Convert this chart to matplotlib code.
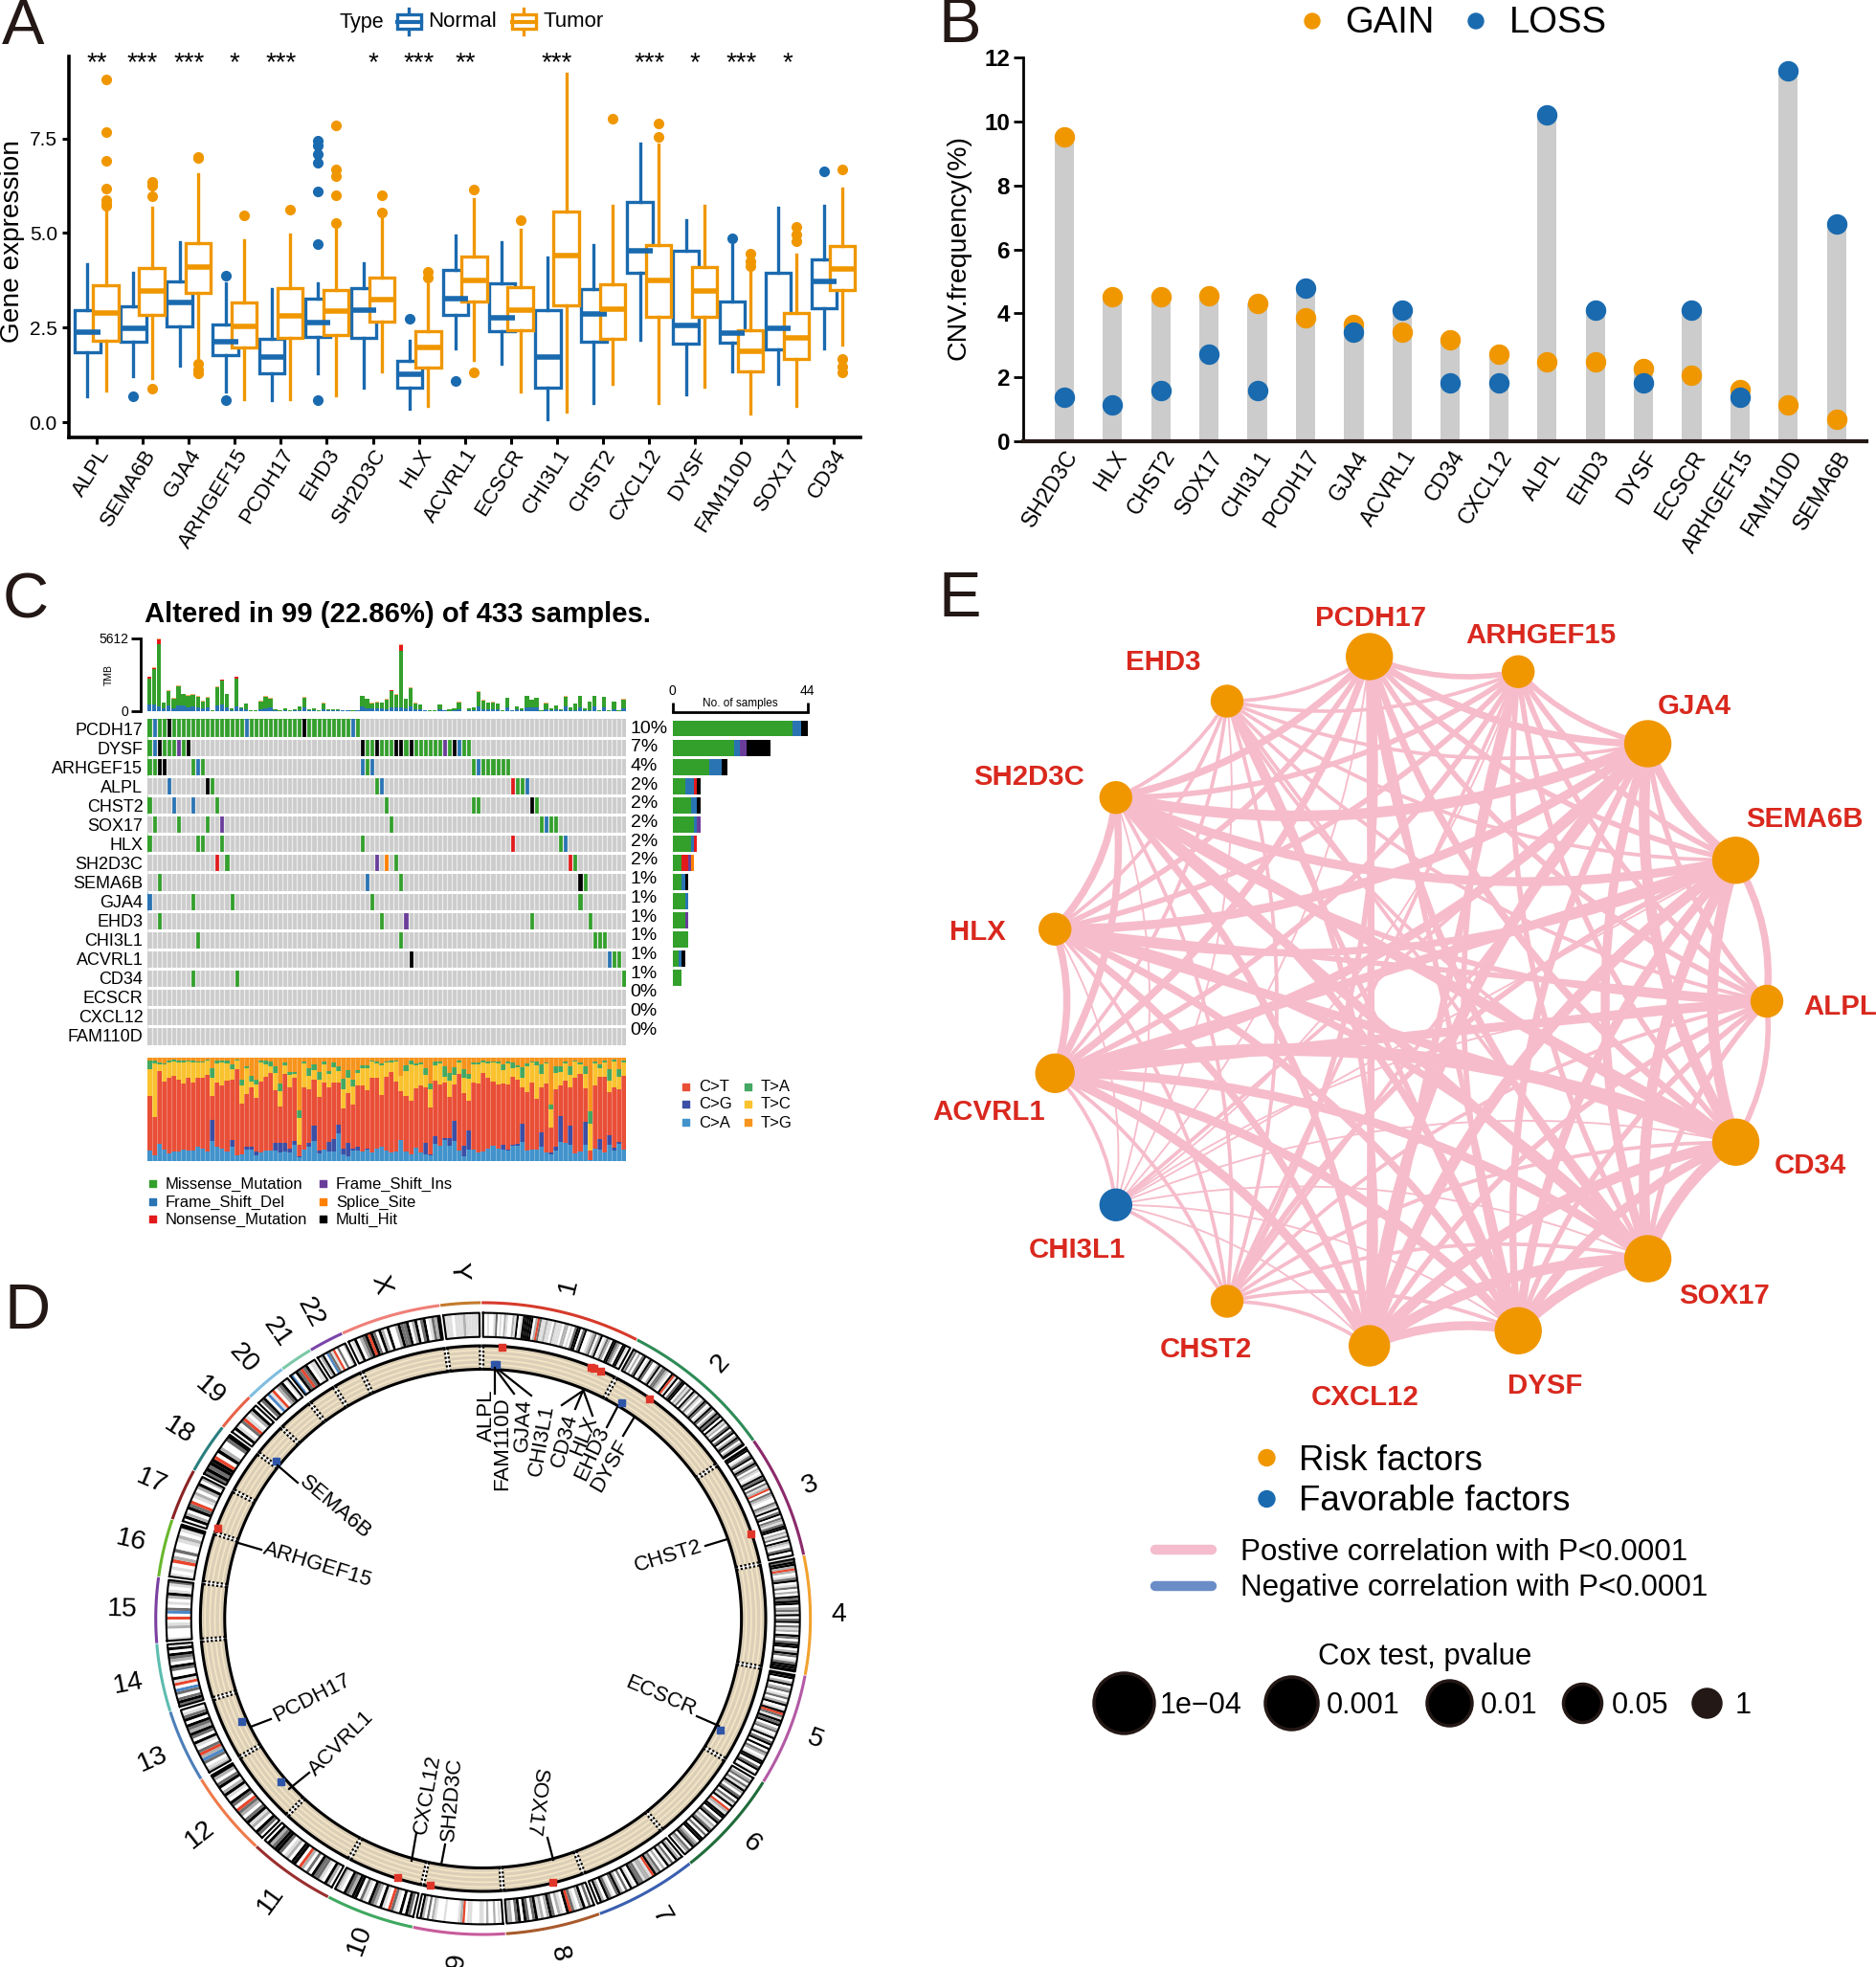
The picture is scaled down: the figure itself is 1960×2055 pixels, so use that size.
"""Recreate a six part gene panel: boxplots, CNV, oncoplot, circos and network."""

import numpy as np
import matplotlib
matplotlib.use('Agg')
import matplotlib.pyplot as plt
from matplotlib.colors import ListedColormap
from matplotlib.patches import PathPatch, Rectangle
from matplotlib.path import Path

plt.rcParams['font.family'] = ['Liberation Sans', 'DejaVu Sans']

W, H = 1960, 2055
BLUE = '#1a6aaf'
ORANGE = '#f09700'
INK = '#231815'

# panel A
box_genes = ['ALPL', 'SEMA6B', 'GJA4', 'ARHGEF15', 'PCDH17', 'EHD3', 'SH2D3C', 'HLX', 'ACVRL1',
             'ECSCR', 'CHI3L1', 'CHST2', 'CXCL12', 'DYSF', 'FAM110D', 'SOX17', 'CD34']
box_stars = ['**', '***', '***', '*', '***', '', '*', '***', '**', '', '***', '', '***', '*', '***', '*', '']
normal_lo = [0.69, 1.21, 1.50, 0.81, 0.57, 1.28, 0.90, 0.35, 1.94, 1.54, 0.07, 0.51, 2.18, 0.73, 1.33, 1.02, 1.94]
normal_q1 = [1.85, 2.12, 2.54, 1.78, 1.28, 2.26, 2.23, 0.92, 2.83, 2.40, 0.92, 2.12, 3.95, 2.07, 2.09, 1.93, 3.02]
normal_med = [2.39, 2.48, 3.16, 2.12, 1.73, 2.64, 2.95, 1.26, 3.26, 2.76, 1.73, 2.86, 4.53, 2.56, 2.35, 2.48, 3.72]
normal_q3 = [2.97, 3.07, 3.72, 2.59, 2.21, 3.26, 3.55, 1.61, 4.02, 3.66, 2.95, 3.52, 5.81, 4.52, 3.19, 3.95, 4.31]
normal_hi = [4.18, 3.95, 4.77, 3.67, 3.52, 3.67, 4.21, 2.16, 4.93, 4.77, 4.36, 4.69, 7.36, 5.33, 4.69, 5.66, 5.72]
normal_out = [[], [0.69], [], [0.59, 3.87], [], [0.57, 4.71, 6.11, 6.86, 7.09, 7.31, 7.45], [], [2.74], [1.09],
              [], [], [], [], [], [4.85], [], [6.62]]
tumor_lo = [0.83, 1.16, 1.73, 0.62, 0.62, 0.70, 1.35, 0.42, 1.64, 0.80, 0.29, 1.00, 0.51, 0.94, 0.23, 0.42, 2.05]
tumor_q1 = [2.16, 2.83, 3.43, 1.97, 2.23, 2.31, 2.66, 1.45, 3.18, 2.43, 3.10, 2.21, 2.78, 2.78, 1.33, 1.66, 3.50]
tumor_med = [2.88, 3.47, 4.10, 2.54, 2.81, 2.93, 3.24, 1.97, 3.74, 2.95, 4.40, 2.99, 3.74, 3.47, 1.88, 2.23, 4.04]
tumor_q3 = [3.61, 4.07, 4.73, 3.16, 3.55, 3.50, 3.81, 2.40, 4.37, 3.58, 5.57, 3.64, 4.69, 4.10, 2.43, 2.88, 4.67]
tumor_hi = [5.70, 5.66, 6.55, 4.81, 4.97, 5.10, 5.36, 3.64, 5.91, 5.09, 9.22, 5.72, 7.33, 5.72, 4.02, 4.43, 6.17]
tumor_out = [[9.07, 7.67, 6.90, 6.17, 5.88, 5.78, 5.72], [0.88, 5.98, 6.26, 6.36], [1.30, 1.40, 1.54, 6.98, 7.02],
             [5.47], [5.63], [5.26, 6.00, 6.50, 6.69, 7.85], [5.54, 5.99], [3.81, 3.97], [1.31, 6.15], [5.33], [],
             [8.02], [7.55, 7.90], [], [4.12, 4.26, 4.45], [4.78, 4.97, 5.17], [1.32, 1.47, 1.66, 6.68]]

# panel B
cnv_genes = ['SH2D3C', 'HLX', 'CHST2', 'SOX17', 'CHI3L1', 'PCDH17', 'GJA4', 'ACVRL1', 'CD34', 'CXCL12',
             'ALPL', 'EHD3', 'DYSF', 'ECSCR', 'ARHGEF15', 'FAM110D', 'SEMA6B']
cnv_gain = [9.53, 4.53, 4.53, 4.54, 4.32, 3.87, 3.64, 3.41, 3.18, 2.73, 2.50, 2.50, 2.28, 2.06, 1.61, 1.14, 0.70]
cnv_loss = [1.37, 1.14, 1.59, 2.73, 1.59, 4.78, 3.41, 4.09, 1.83, 1.83, 10.22, 4.09, 1.83, 4.09, 1.37, 11.59, 6.81]

# panel C
onco_genes = ['PCDH17', 'DYSF', 'ARHGEF15', 'ALPL', 'CHST2', 'SOX17', 'HLX', 'SH2D3C', 'SEMA6B', 'GJA4',
              'EHD3', 'CHI3L1', 'ACVRL1', 'CD34', 'ECSCR', 'CXCL12', 'FAM110D']
onco_pct = ['10%', '7%', '4%', '2%', '2%', '2%', '2%', '2%', '1%', '1%', '1%', '1%', '1%', '1%', '0%', '0%', '0%']
missense = {
    'PCDH17': [0, 2, 3, *range(5, 20), *range(21, 32), *range(33, 42), 43],
    'DYSF': [0, 3, 4, 5, 7, 45, 46, 48, 49, 50, 53, *range(55, 61), 62, 65, 66],
    'ARHGEF15': [0, 1, 9, 11, 45, 67, *range(69, 75)],
    'ALPL': [13, 47, 76, 77],
    'CHST2': [0, 14, 49, 67, 68, 80],
    'SOX17': [1, 6, 12, 50, 81, 83, 84],
    'HLX': [0, 10, 11, 15, 44, 85],
    'SH2D3C': [16, 51, 88],
    'SEMA6B': [2, 52, 90],
    'GJA4': [9, 17, 46, 89],
    'EHD3': [2, 48, 79, 91],
    'CHI3L1': [10, 52, 92, 93, 94],
    'ACVRL1': [96, 97],
    'CD34': [9, 18, 98],
}
frame_del = {'PCDH17': [1, 20, 42], 'DYSF': [1, 64], 'ARHGEF15': [10, 44, 46, 68], 'ALPL': [4, 48, 78],
             'CHST2': [5, 9], 'SOX17': [82], 'HLX': [86], 'SEMA6B': [45], 'GJA4': [0], 'ACVRL1': [95]}
nonsense = {'ALPL': [75], 'HLX': [75], 'SH2D3C': [14, 87]}
frame_ins = {'DYSF': [6, 61], 'SOX17': [15], 'SH2D3C': [47], 'EHD3': [53]}
splice_site = {'SH2D3C': [49]}
multi_hit = {'PCDH17': [4, 32], 'DYSF': [2, 8, 44, 47, 51, 52, 54, 63], 'ARHGEF15': [2, 3], 'ALPL': [12],
             'CHST2': [79], 'SEMA6B': [89], 'ACVRL1': [54]}

# bar heights, full scale 226 is 5612 mutations
tmb_total = [108, 136, 226, 28, 64, 41, 80, 55, 50, 54, 48, 33, 45, 3, 76, 99, 55, 8, 108, 13, 25, 3, 2, 33, 47,
             41, 5, 2, 8, 2, 5, 16, 45, 5, 8, 2, 26, 7, 5, 5, 4, 3, 3, 4, 49, 40, 27, 30, 28, 38, 66, 53, 208, 40,
             73, 26, 20, 4, 3, 3, 21, 3, 6, 8, 30, 1, 9, 11, 61, 36, 28, 29, 23, 2, 43, 4, 16, 8, 49, 37, 43, 2,
             26, 8, 19, 5, 47, 13, 24, 49, 8, 31, 49, 2, 46, 3, 31, 3, 38]
tmb_del = [20, 20, 15, 8, 17, 10, 18, 18, 12, 14, 13, 8, 12, 0, 18, 22, 11, 3, 15, 9, 6, 1, 1, 7, 9,
           11, 2, 1, 2, 1, 2, 4, 12, 2, 2, 1, 5, 2, 2, 3, 2, 2, 1, 2, 14, 10, 8, 8, 9, 7, 12, 13, 13, 9,
           15, 6, 6, 2, 1, 1, 6, 2, 1, 3, 6, 1, 2, 2, 15, 7, 5, 7, 6, 1, 12, 3, 5, 2, 13, 11, 11, 1,
           6, 2, 5, 2, 15, 3, 4, 12, 3, 4, 14, 1, 11, 1, 7, 1, 9]
tmb_red = {0: 4, 1: 3, 2: 17, 15: 3, 18: 4, 50: 1, 52: 20, 54: 1, 68: 1}

# spectrum boundaries, read as pixel rows in a crop with base 352 and top 28
spec_ca = [318, 335, 297, 315, 328, 322, 321, 315, 320, 318, 308, 312, 323, 288, 306, 314, 323, 308, 335, 330,
           315, 317, 335, 326, 320, 318, 318, 324, 322, 325, 302, 340, 315, 308, 290, 328, 316, 323, 323, 265,
           332, 338, 320, 318, 323, 316, 326, 312, 306,
           318, 326, 323, 287, 322, 330, 310, 324, 332, 335, 297, 305, 285, 303, 288, 318, 338, 317, 316, 325,
           322, 312, 305, 312, 315, 320, 305, 305, 292, 320, 316, 315, 308, 324, 332, 318, 292, 295, 302, 328,
           323, 302, 350, 314, 316, 324, 300, 318, 298, 316]
spec_cg = [318, 335, 297, 315, 328, 322, 321, 315, 320, 318, 308, 312, 323, 224, 306, 314, 323, 285, 335, 330,
           306, 306, 322, 326, 320, 318, 294, 296, 294, 312, 290, 336, 315, 294, 240, 320, 316, 293, 282, 238,
           312, 296, 313, 307, 323, 312, 326, 312, 306,
           318, 326, 323, 287, 322, 330, 310, 324, 295, 330, 274, 305, 280, 280, 225, 318, 305, 257, 316, 325,
           322, 312, 305, 312, 300, 315, 300, 298, 234, 320, 316, 315, 262, 324, 326, 308, 212, 295, 240, 328,
           323, 228, 350, 314, 284, 324, 270, 310, 292, 316]
spec_ct = [147, 215, 70, 102, 90, 85, 97, 110, 90, 107, 91, 91, 83, 147, 107, 115, 100, 96, 65, 173,
           141, 122, 155, 102, 88, 75, 130, 180, 78, 120, 92, 300, 122, 128, 98, 152, 107, 122, 107, 106,
           187, 138, 176, 115, 115, 130, 92, 92, 145,
           87, 72, 104, 132, 147, 162, 123, 115, 120, 183, 100, 112, 105, 150, 113, 78, 140, 162, 106, 110,
           75, 92, 104, 112, 110, 112, 87, 97, 122, 137, 105, 157, 120, 110, 247, 128, 115, 101, 120, 92,
           80, 125, 320, 115, 87, 88, 137, 120, 128, 85]
spec_tc = [63, 47, 48, 50, 44, 40, 42, 42, 41, 42, 44, 44, 38, 90, 45, 43, 45, 65, 38, 115,
           62, 102, 113, 43, 50, 55, 76, 132, 52, 82, 78, 217, 45, 85, 68, 98, 50, 80, 58, 70,
           127, 90, 117, 77, 60, 60, 40, 45, 52,
           44, 42, 40, 85, 70, 48, 52, 50, 82, 128, 52, 45, 88, 100, 82, 44, 90, 95, 48, 48,
           42, 45, 44, 45, 68, 47, 62, 57, 92, 55, 43, 52, 80, 46, 190, 75, 72, 45, 82, 40,
           48, 80, 235, 45, 60, 42, 100, 40, 87, 43]
spec_ta = [38, 36, 44, 46, 38, 34, 38, 38, 37, 38, 39, 39, 35, 62, 37, 36, 38, 48, 33, 96,
           54, 84, 96, 38, 37, 40, 55, 110, 44, 72, 72, 192, 41, 60, 48, 72, 40, 70, 42, 56,
           94, 68, 97, 68, 52, 52, 36, 41, 47,
           40, 36, 36, 85, 52, 37, 47, 44, 60, 110, 41, 41, 56, 76, 58, 38, 65, 78, 42, 43,
           36, 40, 39, 40, 50, 41, 42, 52, 58, 47, 39, 41, 50, 42, 175, 56, 55, 40, 56, 36,
           42, 54, 195, 40, 50, 38, 63, 35, 65, 38]

# panel D
chrom_names = ['1', '2', '3', '4', '5', '6', '7', '8', '9', '10', '11', '12', '13', '14', '15', '16', '17', '18',
               '19', '20', '21', '22', 'X', 'Y']
chrom_mb = [249, 243, 198, 191, 181, 171, 159, 146, 141, 136, 135, 134, 115, 107, 103, 90, 81, 78, 59, 63, 48, 51,
            155, 59]
chrom_arc = ['#d63a2b', '#2e8b57', '#8b2a6b', '#f2a12e', '#b35aa5', '#1f6b3a', '#3a5fb0', '#a85a2c', '#c75b9b',
             '#3ea860', '#9a2e2e', '#ef7a4a', '#4d7fb8', '#5dbcb0', '#7a3fa0', '#6ab82d', '#8b2323', '#2a7f7f',
             '#e8634a', '#7ebde0', '#7cc8a8', '#7a45a8', '#ef7f78', '#c47a2c']
chrom_bands = [
    '00100130102100214014444402r311211021110220103440340012302401320443204410',
    '2302034014300241332104r1403440213042031024301430243404120340340243024',
    '4401340243021014340312r032100321403403213440213042103401',
    '3442r20134013020434402314034031204303440243013444',
    '44024023013024014r3143402301403404032014403401',
    '0230314203403140r2144034021340304402340320',
    '0240314020324r122133401403024301340240',
    '03042013r4012034202143034043022',
    '0102002011000110r2100000100012030240',
    '03404013r0140234013044234012',
    '024013340302r04402103443240',
    '03402143023r0340142043024',
    '2103b2r301403423404310',
    '34303b0r1400340234041',
    '1000210r0b3010241013',
    '1010r2030012014',
    '042043r01202402',
    '34344r0420034',
    '04103r10240',
    '0340b1r023401',
    'b043r34011',
    '0240b31r03002',
    '0140234r4304204002433402403401324',
    '1110111211111',
]
gene_marks = ['ALPL', 'FAM110D', 'GJA4', 'CHI3L1', 'CD34', 'HLX', 'EHD3', 'DYSF', 'CHST2', 'ECSCR', 'SOX17',
              'SH2D3C', 'CXCL12', 'ACVRL1', 'PCDH17', 'ARHGEF15', 'SEMA6B']
gene_chrom = [0, 0, 0, 0, 0, 0, 1, 1, 2, 4, 7, 8, 9, 11, 12, 16, 18]
gene_mb = [21.8, 26.3, 35.0, 203.0, 208.0, 221.0, 31.0, 71.0, 142.0, 138.0, 55.0, 130.0, 44.9, 52.0, 58.0, 8.0, 4.5]
gene_gain = [False, False, True, True, True, True, False, True, True, False, True, True, True, False, False, True,
             False]

# panel E, clockwise from ALPL
net_genes = ['ALPL', 'CD34', 'SOX17', 'DYSF', 'CXCL12', 'CHST2', 'CHI3L1', 'ACVRL1', 'HLX', 'SH2D3C', 'EHD3',
             'PCDH17', 'ARHGEF15', 'GJA4', 'SEMA6B']
net_size = [33, 48, 48, 48, 42, 33, 33, 40, 33, 33, 33, 48, 33, 48, 48]
net_weight = ['33332153323334', '6562175624366', '662154524356', '52154433345', '2154434466',
              '222223223', '21111121', '4424355', '423354', '24365', '2222', '343', '33', '5']
cox_labels = ['1e\u221204', '0.001', '0.01', '0.05', '1']
cox_size = [66, 58, 50, 43, 32]


def px_axes(fig, left, top, right, bottom, **kwargs):
    """Add an axes given by its edges in image pixels."""
    return fig.add_axes([left / W, 1 - bottom / H, (right - left) / W, (bottom - top) / H], **kwargs)


def pt_area(diameter_px):
    """Marker area for a diameter in pixels at 100 dpi."""
    return (diameter_px * 0.72) ** 2


def draw_boxes(ax, positions, lo, q1, med, q3, hi, out, color):
    """Draw one dodged series of white filled boxes."""
    stats = [dict(whislo=a, q1=b, med=c, q3=d, whishi=e, fliers=f)
             for a, b, c, d, e, f in zip(lo, q1, med, q3, hi, out)]
    ax.bxp(stats, positions=positions, widths=0.55, showcaps=False, patch_artist=True, manage_ticks=False,
           boxprops=dict(facecolor='white', edgecolor=color, linewidth=2.4),
           whiskerprops=dict(color=color, linewidth=2.4),
           medianprops=dict(color=color, linewidth=4, solid_capstyle='butt'),
           flierprops=dict(marker='o', markerfacecolor=color, markeredgecolor=color, markersize=7))


def plot_boxes(fig):
    """Panel A."""
    ax = px_axes(fig, 71.6, 59, 899, 457)
    x = np.arange(len(box_genes))
    draw_boxes(ax, x - 0.2, normal_lo, normal_q1, normal_med, normal_q3, normal_hi, normal_out, BLUE)
    draw_boxes(ax, x + 0.2, tumor_lo, tumor_q1, tumor_med, tumor_q3, tumor_hi, tumor_out, ORANGE)
    for xi, star in zip(x, box_stars):
        ax.text(xi, 9.49, star, ha='center', va='center', fontsize=20, color='black')
    ax.set_xlim(-0.611, 16.59)
    ax.set_ylim(-0.405, 9.67)
    ax.set_yticks([0, 2.5, 5, 7.5], ['0.0', '2.5', '5.0', '7.5'], fontsize=15)
    ax.set_xticks(x)
    ax.set_xticklabels(box_genes, rotation=58, ha='right', va='top', rotation_mode='anchor', fontsize=16)
    ax.tick_params(width=2.2, length=5)
    ax.tick_params(axis='x', pad=1)
    for side in ('top', 'right'):
        ax.spines[side].set_visible(False)
    for side in ('left', 'bottom'):
        ax.spines[side].set_linewidth(2.6)
    ax.set_ylabel('Gene expression', fontsize=20.2)
    ax.yaxis.set_label_coords(-46 / 827, (457 - 252) / 398)


def plot_cnv(fig):
    """Panel B."""
    ax = px_axes(fig, 1069, 60.4, 1950, 461)
    x = np.arange(len(cnv_genes))
    ax.bar(x, np.maximum(cnv_gain, cnv_loss), width=0.4, color='#cbcccb')
    ax.scatter(x, cnv_gain, s=pt_area(20), color=ORANGE, zorder=3, clip_on=False)
    ax.scatter(x, cnv_loss, s=pt_area(20), color=BLUE, zorder=4, clip_on=False)
    ax.set_xlim(-0.85, 16.62)
    ax.set_ylim(0, 12)
    ax.set_yticks(range(0, 13, 2))
    ax.set_yticklabels(range(0, 13, 2), fontsize=17.5, fontweight='bold')
    ax.set_xticks(x)
    ax.set_xticklabels(cnv_genes, rotation=58, ha='right', va='top', rotation_mode='anchor', fontsize=16.5)
    ax.tick_params(axis='x', length=0, pad=4)
    ax.tick_params(axis='y', width=2, length=7, pad=3)
    for side in ('top', 'right'):
        ax.spines[side].set_visible(False)
    ax.spines['left'].set_linewidth(2)
    ax.spines['bottom'].set_linewidth(3)
    ax.spines['bottom'].set_color(INK)
    ax.set_ylabel('CNV.frequency(%)', fontsize=20.5)
    ax.yaxis.set_label_coords(-55 / 881, (461 - 259) / 400.6)


def onco_matrix():
    """Turn the per type sample lists into a gene by sample code matrix."""
    matrix = np.zeros((len(onco_genes), 99), dtype=int)
    for code, table in enumerate([missense, frame_del, nonsense, frame_ins, splice_site, multi_hit], start=1):
        for gene, samples in table.items():
            matrix[onco_genes.index(gene), samples] = code
    return matrix


def plot_onco(fig):
    """Panel C."""
    colors = ['#33a02c', '#2a74b4', '#e31a1c', '#6a3d9a', '#ff7f00', '#000000']
    matrix = onco_matrix()
    rows, cols = matrix.shape

    # sample burden on top
    ax = px_axes(fig, 153.6, 667, 654, 743)
    x = np.arange(cols) + 0.5
    total = np.array(tmb_total, dtype=float)
    blue = np.array(tmb_del, dtype=float)
    red = np.array([tmb_red.get(i, 0) for i in range(cols)], dtype=float)
    cap = np.where(total >= 25, 2.0, 0.0)
    green = total - blue - red - cap
    scale = 5612 / 226
    ax.bar(x, blue * scale, width=0.85, color=colors[1])
    ax.bar(x, green * scale, bottom=blue * scale, width=0.85, color=colors[0])
    ax.bar(x, red * scale, bottom=(blue + green) * scale, width=0.85, color=colors[2])
    ax.bar(x, cap * scale, bottom=(blue + green + red) * scale, width=0.85, color='#fdae6b')
    ax.set_xlim(0, cols)
    ax.set_ylim(0, 5612)
    ax.set_xticks([])
    ax.set_yticks([0, 5612], ['0', '5612'], fontsize=9.5)
    ax.tick_params(axis='y', width=2, length=7, pad=2)
    for side in ('top', 'right', 'bottom'):
        ax.spines[side].set_visible(False)
    ax.spines['left'].set_position(('outward', 5))
    ax.spines['left'].set_linewidth(2)
    ax.patch.set_alpha(0)

    # gene by sample grid
    ax = px_axes(fig, 153.6, 751, 654, 1092)
    cmap = ListedColormap(['#cccccc'] + colors)
    ax.pcolormesh(matrix, cmap=cmap, vmin=0, vmax=6)
    ax.vlines(np.arange(1, cols), 0, rows, color='#ececec', linewidth=0.9)
    ax.hlines(np.arange(1, rows), 0, cols, color='white', linewidth=2.2)
    ax.set_xlim(0, cols)
    ax.set_ylim(rows, 0)
    ax.set_xticks([])
    ax.set_yticks(np.arange(rows) + 0.5, onco_genes, fontsize=13)
    ax.tick_params(axis='y', length=0, pad=3)
    for side, spine in ax.spines.items():
        spine.set_visible(False)
    for i, label in enumerate(onco_pct):
        ax.text(cols + 0.9, i + 0.5 - i * 0.018, label, va='center', fontsize=14)

    # per gene totals on the right
    ax = px_axes(fig, 702.7, 751, 843.7, 1092)
    y = np.arange(rows) + 0.5
    left = np.zeros(rows)
    for code, color in enumerate(colors, start=1):
        counts = (matrix == code).sum(axis=1)
        ax.barh(y, counts, left=left, height=0.84, color=color)
        left += counts
    ax.set_xlim(0, 44)
    ax.set_ylim(rows, 0)
    ax.set_yticks([])
    ax.xaxis.tick_top()
    ax.set_xticks([0, 44], ['0', '44'], fontsize=9.5)
    ax.tick_params(axis='x', width=2, length=7, direction='out', pad=3.5)
    for side in ('left', 'right', 'bottom'):
        ax.spines[side].set_visible(False)
    ax.spines['top'].set_position(('outward', 5))
    ax.spines['top'].set_linewidth(2)

    # base change spectrum at the bottom
    ax = px_axes(fig, 153.6, 1105, 654, 1213)
    bounds = np.array([np.full(cols, 352), spec_ca, spec_cg, spec_ct, spec_tc, spec_ta, np.full(cols, 28)], float)
    share = -np.diff(bounds, axis=0) / 324 * 100
    base = 0
    spec_colors = ['#4293cc', '#3c4fa5', '#e94f37', '#f9c22e', '#43a861', '#f7941d']
    for part, color in zip(share, spec_colors):
        ax.bar(x, part, bottom=base, width=1.0, color=color, linewidth=0)
        base = base + part
    ax.vlines(np.arange(1, cols), 0, 100, color='white', linewidth=0.7, alpha=0.3)
    ax.set_xlim(0, cols)
    ax.set_ylim(0, 100)
    ax.axis('off')


def plot_circos(fig):
    """Panel D."""
    ax = px_axes(fig, 161.7, 1360, 847.7, 2022, projection='polar')
    ax.set_aspect('auto')
    ax.set_theta_zero_location('N')
    ax.set_theta_direction(-1)
    ax.set_rlim(0, 1)
    ax.set_axis_off()
    band_color = {'0': '#ffffff', '1': '#dedede', '2': '#b0b0b0', '3': '#6e6e6e', '4': '#000000',
                  'r': '#e8452c', 'b': '#4a86c8'}
    per_mb = 344 / sum(chrom_mb)
    gap = 16 / len(chrom_mb)
    start = 0.0
    starts = []
    for name, size, arc, bands in zip(chrom_names, chrom_mb, chrom_arc, chrom_bands):
        starts.append(start)
        span = size * per_mb
        t0, t1 = np.radians(start), np.radians(start + span)
        theta = np.linspace(t0, t1, 60)
        ax.plot(theta, np.full(60, 0.997), color=arc, linewidth=2.2, clip_on=False)

        # ideogram
        edges = np.linspace(t0, t1, len(bands) + 1)
        ax.bar(edges[:-1], 0.076, width=np.diff(edges), bottom=0.889, align='edge',
               color=[band_color[c] for c in bands], linewidth=0)
        ax.plot(np.r_[theta, theta[::-1], theta[0]], np.r_[np.full(60, 0.965), np.full(60, 0.889), 0.965],
                color='black', linewidth=1.5)

        # copy number track
        ax.bar(t0, 0.074, width=t1 - t0, bottom=0.787, align='edge', color='#dccfb8', linewidth=0)
        for level in (0.802, 0.817, 0.832, 0.847):
            ax.plot(theta, np.full(60, level), color='#f4e6c6', linewidth=1.2)
        ax.plot(theta, np.full(60, 0.861), color='black', linewidth=2.2)
        ax.plot(theta, np.full(60, 0.787), color='black', linewidth=2.2)
        for edge in (t0, t1):
            ax.plot([edge, edge], [0.787, 0.861], color='black', linewidth=1.6, linestyle=(0, (1, 1)))

        # chromosome name
        mid = start + span / 2
        rotation = 90 - mid if mid <= 180 else 270 - mid
        radius = 1.082 if mid <= 215 else 1.1
        ax.text(np.radians(mid), radius, name, ha='center', va='center', rotation=rotation, fontsize=20.5,
                clip_on=False)
        start += span + gap

    theta = [np.radians(starts[c] + mb * per_mb) for c, mb in zip(gene_chrom, gene_mb)]
    radius = [0.858 if g else 0.803 for g in gene_gain]
    colors = ['#e0362a' if g else '#2f55a8' for g in gene_gain]
    ax.scatter(theta, radius, s=pt_area(7), marker='s', c=colors, zorder=5, clip_on=False)


def plot_network(fig):
    """Panel E."""
    ax = px_axes(fig, 1040, 630, 1900, 1462)
    ax.set_xlim(-430 / 376, 430 / 376)
    ax.set_ylim(-416 / 362, 416 / 362)
    ax.axis('off')
    n = len(net_genes)
    angle = 2 * np.pi * np.arange(n) / n
    xs, ys = np.cos(angle), -np.sin(angle)
    for i, row in enumerate(net_weight):
        for offset, weight in enumerate(row):
            j = i + 1 + offset
            p0, p1 = np.array([xs[i], ys[i]]), np.array([xs[j], ys[j]])
            mid = (p0 + p1) / 2
            chord = np.hypot(*(p1 - p0))
            distance = np.hypot(*mid)
            # edges bend to the middle but stay clear of the hole there
            peak = max(min(0.08 * chord, distance - 0.1), 0)
            toward = -mid / distance
            if i == 0 and j in (1, n - 1):
                toward = -toward
            ctrl = mid + 2 * peak * toward
            path = Path([p0, ctrl, p1], [Path.MOVETO, Path.CURVE3, Path.CURVE3])
            ax.add_patch(PathPatch(path, facecolor='none', edgecolor='#f6bccb', linewidth=int(weight) * 1.35))
    colors = [BLUE if g == 'CHI3L1' else ORANGE for g in net_genes]
    ax.scatter(xs, ys, s=[pt_area(d) for d in net_size], c=colors, zorder=5, clip_on=False)


def plot_canvas(fig):
    """Panel letters, legends and free labels, placed in image pixels."""
    ax = fig.add_axes([0, 0, 1, 1])
    ax.set_xlim(0, W)
    ax.set_ylim(H, 0)
    ax.axis('off')
    ax.patch.set_alpha(0)

    for letter, x, y in [('A', 2, 46), ('B', 980, 44), ('C', 3, 646), ('D', 4, 1388), ('E', 980, 644)]:
        ax.text(x, y, letter, fontsize=48, color=INK, va='baseline')

    # legend of panel A
    ax.text(378, 24, 'Type', fontsize=15.5, ha='center', va='center')
    for x, label, color in [(427, 'Normal', BLUE), (547, 'Tumor', ORANGE)]:
        ax.plot([x, x], [9, 36], color=color, linewidth=2.4)
        ax.add_patch(Rectangle((x - 12.5, 15), 25, 15, facecolor='white', edgecolor=color, linewidth=2.4, zorder=3))
        ax.plot([x - 12.5, x + 12.5], [22.5, 22.5], color=color, linewidth=3, zorder=4)
        ax.text(x + 20, 22, label, fontsize=16, va='center')

    # legend of panel B
    ax.scatter([1371, 1542], [22, 22], s=pt_area(16), c=[ORANGE, BLUE])
    ax.text(1405, 24, 'GAIN', fontsize=27.5, va='center')
    ax.text(1577, 24, 'LOSS', fontsize=27.5, va='center')

    # texts and legends of panel C
    ax.text(151, 642, 'Altered in 99 (22.86%) of 433 samples.', fontsize=21.1, fontweight='bold', va='center')
    ax.text(114, 705, 'TMB', fontsize=7.5, rotation=90, ha='center', va='center')
    ax.text(773, 735, 'No. of samples', fontsize=8.5, ha='center', va='center')
    mut = [('Missense_Mutation', '#33a02c', 159, 1236), ('Frame_Shift_Del', '#2a74b4', 159, 1255),
           ('Nonsense_Mutation', '#e31a1c', 159, 1273), ('Frame_Shift_Ins', '#6a3d9a', 337, 1236),
           ('Splice_Site', '#ff7f00', 337, 1255), ('Multi_Hit', '#000000', 337, 1273)]
    spec = [('C>T', '#e94f37', 716, 1135), ('C>G', '#3c4fa5', 716, 1153), ('C>A', '#4293cc', 716, 1172),
            ('T>A', '#43a861', 781, 1135), ('T>C', '#f9c22e', 781, 1153), ('T>G', '#f7941d', 781, 1172)]
    for label, color, x, y in mut + spec:
        ax.scatter([x], [y], s=pt_area(7), marker='s', color=color)
        ax.text(x + 14, y + 1, label, fontsize=12, va='center')

    # gene labels of panel D with their leader lines
    leaders = [((517, 1429), (517, 1456)), ((519, 1432), (537, 1456)), ((522, 1432), (555, 1458)),
               ((609, 1453), (587, 1468)), ((609, 1453), (601, 1472)), ((610, 1454), (619, 1479)),
               ((645, 1470), (634, 1491)), ((663, 1480), (651, 1500)), ((290, 1531), (311, 1549)),
               ((249, 1612), (273, 1619)), ((760, 1608), (737, 1615)), ((751, 1803), (728, 1793)),
               ((262, 1804), (283, 1796)), ((302, 1869), (323, 1852)), ((430, 1944), (435, 1915)),
               ((461, 1948), (465, 1927)), ((578, 1943), (572, 1920))]
    for (x0, y0), (x1, y1) in leaders:
        ax.plot([x0, x1], [y0, y1], color='black', linewidth=1.6)
    circos_labels = [('ALPL', 508, 1479, 90), ('FAM110D', 525, 1508, 90), ('GJA4', 547, 1489, 87),
                     ('CHI3L1', 566, 1505, 80), ('CD34', 590, 1505, 75), ('HLX', 610, 1500, 68),
                     ('EHD3', 619, 1519, 65), ('DYSF', 637, 1531, 60), ('SEMA6B', 350, 1575, -40),
                     ('ARHGEF15', 332, 1635, -17), ('CHST2', 698, 1626, 17), ('ECSCR', 690, 1772, -23),
                     ('PCDH17', 326, 1774, 27), ('ACVRL1', 357, 1821, 45), ('CXCL12', 447, 1875, 80),
                     ('SH2D3C', 472, 1880, 85), ('SOX17', 560, 1883, -97)]
    for label, x, y, rotation in circos_labels:
        ax.text(x, y, label, fontsize=16, rotation=rotation, ha='center', va='center')

    # gene labels and legends of panel E
    net_labels = [('PCDH17', 1432, 643), ('ARHGEF15', 1610, 661), ('EHD3', 1215, 690), ('GJA4', 1770, 735),
                  ('SH2D3C', 1075, 809), ('SEMA6B', 1885, 854), ('HLX', 1021, 971), ('ALPL', 1923, 1049),
                  ('ACVRL1', 1033, 1160), ('CD34', 1891, 1216), ('CHI3L1', 1125, 1304), ('SOX17', 1802, 1352),
                  ('CHST2', 1260, 1408), ('DYSF', 1614, 1445), ('CXCL12', 1426, 1457)]
    for label, x, y in net_labels:
        ax.text(x, y + 2.5, label, fontsize=21.2, fontweight='bold', color='#d9281e', ha='center', va='center')
    ax.scatter([1323.5, 1323.5], [1523, 1566], s=pt_area(17), c=[ORANGE, BLUE])
    ax.text(1357, 1527, 'Risk factors', fontsize=26.5, va='center')
    ax.text(1357, 1569, 'Favorable factors', fontsize=26.5, va='center')
    ax.plot([1207, 1266], [1619, 1619], color='#f4bccc', linewidth=7.5, solid_capstyle='round')
    ax.plot([1207, 1266], [1657, 1657], color='#6a8dc8', linewidth=7.5, solid_capstyle='round')
    ax.text(1296, 1622, 'Postive correlation with P<0.0001', fontsize=22.6, va='center')
    ax.text(1296, 1659, 'Negative correlation with P<0.0001', fontsize=22.6, va='center')
    ax.text(1489, 1731, 'Cox test, pvalue', fontsize=22.4, ha='center', va='center')
    for label, size, x, tx in zip(cox_labels, cox_size, [1174, 1349, 1514, 1653, 1783], [1212, 1386, 1547, 1684, 1813]):
        color = INK if label == '1' else 'black'
        ax.scatter([x], [1779], s=pt_area(size - 3), color=color, edgecolor=INK, linewidth=2.5)
        ax.text(tx, 1782, label, fontsize=22, va='center')


def main():
    """Build the panels and save the figure."""
    fig = plt.figure(figsize=(W / 100, H / 100), dpi=100)
    plot_boxes(fig)
    plot_cnv(fig)
    plot_onco(fig)
    plot_circos(fig)
    plot_network(fig)
    plot_canvas(fig)
    fig.savefig('out.png', dpi=100)


if __name__ == '__main__':
    main()
